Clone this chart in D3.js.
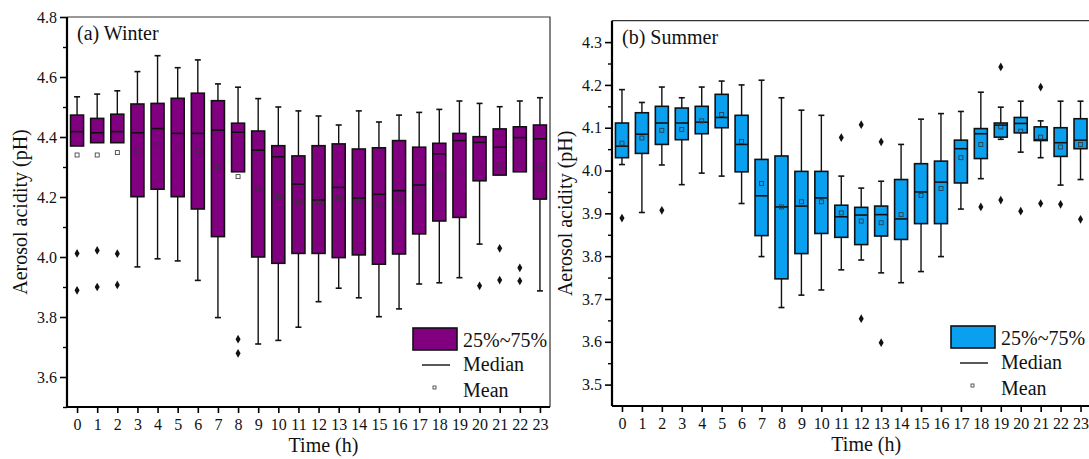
<!DOCTYPE html>
<html>
<head>
<meta charset="utf-8">
<script src="https://cdn.jsdelivr.net/npm/d3@7"></script>
<style>
  body { margin: 0; background: #fff; }
  text { font-family: "Liberation Serif", "Times New Roman", serif; fill: #111; }
</style>
</head>
<body>
<div id="chart"></div>
<script>
const hours = d3.range(24);

// winter (a)
const winterMin = [4.37, 4.381, 4.381, 3.967, 3.994, 3.987, 3.922, 3.798, 4.284, 3.71, 3.722, 3.766,
  3.851, 3.896, 3.864, 3.801, 3.827, 3.91, 3.914, 3.931, 4.043, 4.273, 4.284, 3.887];
const winterQ1 = [4.37, 4.381, 4.381, 4.201, 4.226, 4.201, 4.16, 4.068, 4.284, 4.0, 3.979, 4.012,
  4.012, 3.998, 4.007, 3.976, 4.01, 4.077, 4.12, 4.132, 4.254, 4.273, 4.284, 4.193];
const winterMedian = [4.418, 4.414, 4.418, 4.414, 4.428, 4.412, 4.412, 4.423, 4.416, 4.356, 4.334, 4.243,
  4.19, 4.232, 4.196, 4.209, 4.221, 4.24, 4.344, 4.388, 4.382, 4.366, 4.398, 4.394];
const winterQ3 = [4.473, 4.462, 4.476, 4.51, 4.512, 4.529, 4.546, 4.521, 4.446, 4.42, 4.371, 4.337,
  4.371, 4.377, 4.36, 4.364, 4.388, 4.366, 4.379, 4.412, 4.401, 4.427, 4.434, 4.44];
const winterMax = [4.534, 4.543, 4.554, 4.618, 4.671, 4.631, 4.657, 4.577, 4.566, 4.528, 4.5, 4.487,
  4.47, 4.44, 4.487, 4.45, 4.473, 4.482, 4.492, 4.52, 4.512, 4.501, 4.52, 4.531];
const winterMean = [4.34, 4.34, 4.348, 4.354, 4.377, 4.364, 4.354, 4.301, 4.268, 4.226, 4.201, 4.183,
  4.183, 4.196, 4.187, 4.173, 4.196, 4.223, 4.268, 4.29, 4.304, 4.301, 4.312, 4.296];
const winterOutliers = [[4.012, 3.889], [4.022, 3.90], [4.011, 3.907], [], [], [], [], [], [3.726, 3.679],
  [], [], [], [], [], [], [], [], [], [], [], [3.904], [4.029, 3.923], [3.964, 3.92], []];

// summer (b)
const summerMin = [4.014, 3.902, 4.013, 3.967, 3.994, 3.987, 3.923, 3.799, 3.68, 3.709, 3.721, 3.768,
  3.791, 3.761, 3.738, 3.764, 3.799, 3.91, 3.981, 4.073, 4.043, 4.03, 3.966, 3.979];
const summerQ1 = [4.03, 4.04, 4.061, 4.072, 4.086, 4.1, 3.997, 3.848, 3.747, 3.806, 3.853, 3.844,
  3.827, 3.847, 3.839, 3.876, 3.876, 3.971, 4.028, 4.078, 4.088, 4.07, 4.033, 4.051];
const summerMedian = [4.057, 4.085, 4.111, 4.111, 4.113, 4.124, 4.061, 3.941, 3.915, 3.917, 3.936, 3.892,
  3.896, 3.897, 3.887, 3.95, 3.973, 4.051, 4.086, 4.106, 4.11, 4.072, 4.065, 4.071];
const summerQ3 = [4.111, 4.135, 4.15, 4.146, 4.15, 4.178, 4.129, 4.026, 4.034, 3.998, 3.998, 3.919,
  3.914, 3.917, 3.979, 4.016, 4.022, 4.071, 4.098, 4.111, 4.124, 4.102, 4.1, 4.121];
const summerMax = [4.189, 4.159, 4.195, 4.17, 4.195, 4.209, 4.2, 4.211, 4.17, 4.141, 4.129, 3.987,
  3.959, 3.975, 4.061, 4.12, 4.133, 4.138, 4.183, 4.148, 4.162, 4.116, 4.162, 4.162];
const summerMean = [4.064, 4.076, 4.094, 4.096, 4.116, 4.131, 4.068, 3.97, 3.915, 3.927, 3.927, 3.901,
  3.882, 3.878, 3.897, 3.942, 3.958, 4.03, 4.061, 4.102, 4.092, 4.078, 4.055, 4.061];
const summerOutliers = [[3.889], [], [3.907], [], [], [], [], [], [], [], [], [4.077], [4.107, 3.654],
  [4.067, 3.598], [], [], [], [], [3.915], [4.242, 3.931], [3.905], [4.195, 3.923], [3.921], [3.886]];

const width = 1089, height = 459;
const svg = d3.select('#chart').append('svg')
  .attr('width', width)
  .attr('height', height)
  .attr('viewBox', [0, 0, width, height]);

function drawPanel({ left, right, top, bottom, yDomain, majorTicks, minorTicks, fill, label,
  stats, legendX, legendY }) {
  const x = d3.scaleLinear().domain([-0.5, 23.5]).range([left, right]);
  const y = d3.scaleLinear().domain(yDomain).range([bottom, top]);
  const g = svg.append('g');
  const boxW = 13;
  const capW = 6;

  // frame: thin top / right
  g.append('path')
    .attr('d', `M${left},${top}H${right}V${bottom}`)
    .attr('fill', 'none').attr('stroke', '#333').attr('stroke-width', 1.2);

  const data = hours.map((h, i) => ({
    h, min: stats.min[i], q1: stats.q1[i], med: stats.med[i], q3: stats.q3[i],
    max: stats.max[i], mean: stats.mean[i], out: stats.out[i],
  }));

  const box = g.append('g').selectAll('g').data(data).join('g')
    .attr('transform', d => `translate(${x(d.h)},0)`);

  // whiskers
  box.append('line')
    .attr('y1', d => y(d.max)).attr('y2', d => y(d.q3))
    .attr('stroke', '#111').attr('stroke-width', 1.4);
  box.append('line')
    .attr('y1', d => y(d.q1)).attr('y2', d => y(d.min))
    .attr('stroke', '#111').attr('stroke-width', 1.4);
  box.append('line')
    .attr('x1', -capW / 2).attr('x2', capW / 2)
    .attr('y1', d => y(d.max)).attr('y2', d => y(d.max))
    .attr('stroke', '#111').attr('stroke-width', 1.6);
  box.filter(d => d.min < d.q1).append('line')
    .attr('x1', -capW / 2).attr('x2', capW / 2)
    .attr('y1', d => y(d.min)).attr('y2', d => y(d.min))
    .attr('stroke', '#111').attr('stroke-width', 1.6);

  box.append('rect')
    .attr('x', -boxW / 2).attr('width', boxW)
    .attr('y', d => y(d.q3)).attr('height', d => y(d.q1) - y(d.q3))
    .attr('fill', fill).attr('stroke', '#111').attr('stroke-width', 1.6);
  box.append('line')
    .attr('x1', -boxW / 2).attr('x2', boxW / 2)
    .attr('y1', d => y(d.med)).attr('y2', d => y(d.med))
    .attr('stroke', '#111').attr('stroke-width', 1.6);
  box.append('rect')
    .attr('x', -2).attr('width', 4)
    .attr('y', d => y(d.mean) - 2).attr('height', 4)
    .attr('fill', 'none').attr('stroke', '#333').attr('stroke-width', 0.8);

  box.selectAll('path.out').data(d => d.out).join('path')
    .attr('class', 'out')
    .attr('d', d3.symbol(d3.symbolDiamond, 22))
    .attr('transform', v => `translate(0,${y(v)})`)
    .attr('fill', '#111');

  // axes
  const yAxis = d3.axisLeft(y).tickValues(majorTicks).tickSize(7).tickPadding(3)
    .tickFormat(d3.format('.1f'));
  const ya = g.append('g').attr('transform', `translate(${left},0)`).call(yAxis);
  g.append('g').attr('transform', `translate(${left},0)`)
    .call(d3.axisLeft(y).tickValues(minorTicks).tickSize(4).tickFormat(''))
    .call(s => s.select('.domain').remove())
    .selectAll('line').attr('stroke-width', 1.4);
  ya.select('.domain').attr('stroke-width', 2.2).attr('d', `M0,${top}V${bottom}`);
  ya.selectAll('line').attr('stroke-width', 1.6);
  ya.selectAll('text').attr('font-size', 16).style('font-family', '"Liberation Serif", serif');

  const xa = g.append('g').attr('transform', `translate(0,${bottom})`)
    .call(d3.axisBottom(x).tickValues(hours).tickSize(6).tickPadding(6).tickFormat(d3.format('d')));
  xa.select('.domain').attr('stroke-width', 2.2).attr('d', `M${left},0H${right}`);
  xa.selectAll('line').attr('stroke-width', 1.6);
  xa.selectAll('text').attr('font-size', 16).style('font-family', '"Liberation Serif", serif');

  // titles
  g.append('text')
    .attr('x', left + 10).attr('y', top + 23)
    .attr('font-size', 20)
    .text(label);
  g.append('text')
    .attr('transform', `translate(${left - 40},${(top + bottom) / 2}) rotate(-90)`)
    .attr('text-anchor', 'middle').attr('font-size', 20)
    .text('Aerosol acidity (pH)');
  g.append('text')
    .attr('x', (left + right) / 2 + 15).attr('y', bottom + 45)
    .attr('text-anchor', 'middle').attr('font-size', 20)
    .text('Time (h)');

  // legend
  const lg = g.append('g').attr('transform', `translate(${legendX},${legendY})`);
  lg.append('rect').attr('x', 0).attr('y', 0).attr('width', 44).attr('height', 22)
    .attr('fill', fill).attr('stroke', '#111').attr('stroke-width', 1.6);
  lg.append('text').attr('x', 50).attr('y', 19).attr('font-size', 20).text('25%~75%');
  lg.append('line').attr('x1', 9).attr('x2', 37).attr('y1', 37).attr('y2', 37)
    .attr('stroke', '#111').attr('stroke-width', 1.4);
  lg.append('text').attr('x', 50).attr('y', 43).attr('font-size', 20).text('Median');
  lg.append('rect').attr('x', 20).attr('y', 58).attr('width', 3).attr('height', 3)
    .attr('fill', 'none').attr('stroke', '#333').attr('stroke-width', 0.8);
  lg.append('text').attr('x', 50).attr('y', 69).attr('font-size', 20).text('Mean');
}

drawPanel({
  left: 67, right: 550, top: 17, bottom: 407,
  yDomain: [3.5, 4.8],
  majorTicks: [3.6, 3.8, 4.0, 4.2, 4.4, 4.6, 4.8],
  minorTicks: [3.5, 3.7, 3.9, 4.1, 4.3, 4.5, 4.7],
  fill: '#800080',
  label: '(a) Winter',
  stats: { min: winterMin, q1: winterQ1, med: winterMedian, q3: winterQ3, max: winterMax,
    mean: winterMean, out: winterOutliers },
  legendX: 413, legendY: 328,
});

drawPanel({
  left: 612, right: 1090.5, top: 20.7, bottom: 406,
  yDomain: [3.45, 4.35],
  majorTicks: [3.5, 3.6, 3.7, 3.8, 3.9, 4.0, 4.1, 4.2, 4.3],
  minorTicks: [3.55, 3.65, 3.75, 3.85, 3.95, 4.05, 4.15, 4.25],
  fill: '#0aa0f0',
  label: '(b) Summer',
  stats: { min: summerMin, q1: summerQ1, med: summerMedian, q3: summerQ3, max: summerMax,
    mean: summerMean, out: summerOutliers },
  legendX: 951, legendY: 326,
});
</script>
</body>
</html>
